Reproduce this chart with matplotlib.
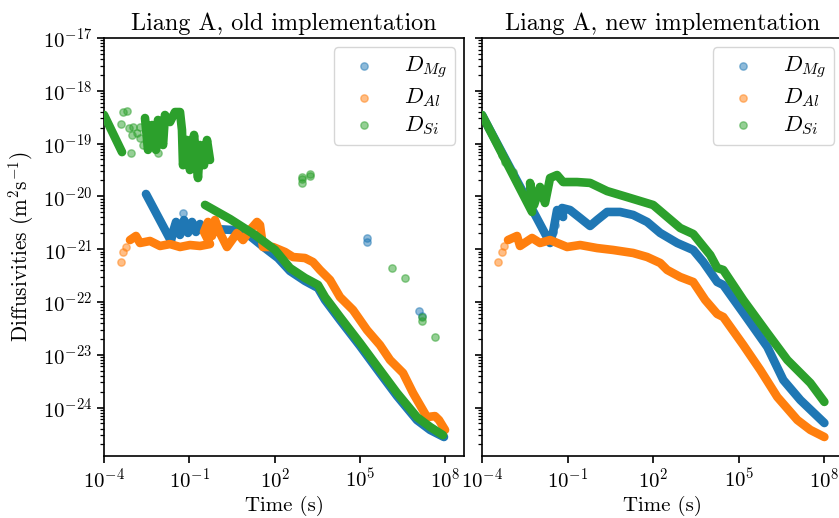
import numpy as np
import matplotlib.pyplot as plt
from matplotlib.ticker import NullLocator

plt.rcParams['font.family'] = 'serif'
plt.rcParams['font.serif'] = ['cmr10']
plt.rcParams['mathtext.fontset'] = 'cm'
plt.rcParams['axes.formatter.use_mathtext'] = True
plt.rcParams['font.size'] = 15

# ---- old implementation: dense runs of points (t in s, D in m^2/s) ----
t_mg_old = [2.99e-3, 2.26e-2, 2.66e-2, 3.4e-2, 4.69e-2, 6.5e-2, 8.97e-2, 0.124, 0.171, 0.237,
            0.327, 0.797, 3.42, 13.5, 45.6, 130.6, 345, 1162, 3327, 5861,
            1.97e4, 9.95e4, 5.0e5, 1.99e6, 1.0e7, 2.9e7, 8.9e7]
d_mg_old = [1.11e-20, 1.43e-21, 2.12e-21, 3.28e-21, 1.86e-21, 3.57e-21, 2.03e-21, 3.28e-21, 2.12e-21, 3.0e-21,
            2.31e-21, 2.41e-21, 2.31e-21, 1.78e-21, 1.05e-21, 6.8e-22, 3.86e-22, 2.5e-22, 1.84e-22, 1.09e-22,
            4.56e-23, 1.47e-23, 4.5e-24, 1.66e-24, 5.8e-25, 3.77e-25, 2.77e-25]

t_al_old = [8.2e-4, 1.33e-3, 1.84e-3, 4.14e-3, 9.3e-3, 2.09e-2, 4.69e-2, 0.105, 0.237, 0.532,
            0.327, 0.453, 0.625, 0.797, 1.19, 2.1, 4.73, 7.69, 13.5, 23.9,
            30.4, 38.8, 87.1, 230, 440, 1162, 2218, 3908, 8790, 1.97e4,
            5.65e4, 1.75e5, 5.0e5, 1.13e6, 3.24e6, 7.26e6, 2.25e7, 4.3e7, 5.96e7, 9.7e7]
d_al_old = [1.49e-21, 1.78e-21, 1.31e-21, 1.43e-21, 1.15e-21, 1.25e-21, 1.1e-21, 1.2e-21, 1.15e-21, 1.25e-21,
            2.12e-21, 3.28e-21, 1.78e-21, 3.57e-21, 2.03e-21, 1.1e-21, 2.03e-21, 1.49e-21, 2.31e-21, 3.28e-21,
            2.87e-21, 1.1e-21, 1.1e-21, 8.85e-22, 7.1e-22, 6.8e-22, 5.7e-22, 4.04e-22, 2.61e-22, 1.24e-22,
            7.05e-23, 2.95e-23, 1.53e-23, 7.98e-24, 4.52e-24, 1.89e-24, 6.6e-25, 6.9e-25, 5.8e-25, 3.77e-25]

t_si_old_early = [1e-4, 4.3e-4]
d_si_old_early = [3.5e-19, 6.9e-20]
t_si_old_burst = [2.76e-3, 3.52e-3, 4.87e-3, 6.7e-3, 7.9e-3, 1.19e-2, 1.39e-2, 2.09e-2, 3.13e-2, 4.69e-2,
                  5.5e-2, 5.98e-2, 8.3e-2, 0.105, 0.146, 0.201, 0.237, 0.327, 0.417, 0.532]
d_si_old_burst = [3.05e-19, 7.6e-20, 2.25e-19, 7.6e-20, 2.8e-19, 9.4e-20, 3.48e-19, 2.56e-19, 3.96e-19, 3.96e-19,
                  1.81e-19, 3.9e-20, 1.17e-19, 3.16e-20, 1.46e-19, 2.23e-20, 9.4e-20, 3.9e-20, 1.17e-19, 4.9e-20]
t_si_old = [0.355, 2.69, 20.3, 102.6, 345, 1162, 3327, 5861, 1.97e4, 9.95e4,
            5.0e5, 1.99e6, 1.0e7, 2.9e7, 8.2e7]
d_si_old = [6.9e-21, 3.73e-21, 1.86e-21, 9.7e-22, 4.4e-22, 2.85e-22, 2.1e-22, 1.24e-22, 5.2e-23, 1.67e-23,
            5.15e-24, 1.89e-24, 6.6e-25, 4.3e-25, 3.0e-25]

# ---- old implementation: scattered single points ----
t_mg_old_pts = [5.98e-2, 1.75e5, 1.75e5, 1.18e7, 1.5e7]
d_mg_old_pts = [4.85e-21, 1.63e-21, 1.37e-21, 6.8e-23, 5.4e-23]
t_al_old_pts = [3.96e-4, 4.66e-4, 5.93e-4]
d_al_old_pts = [5.7e-22, 8.85e-22, 1.1e-21]
t_si_old_pts = [4.66e-4, 6.4e-4, 3.96e-4, 7.6e-4, 1.04e-3, 9.6e-4, 1.84e-3, 1.45e-3, 2.35e-3, 8.9e-4,
                7.9e-3, 1.84e-3, 912, 912, 912, 1742, 1742, 1.33e6, 3.8e6, 1.5e7,
                1.5e7, 4.3e7]
d_si_old_pts = [3.96e-19, 4.1e-19, 2.35e-19, 1.97e-19, 2.06e-19, 1.45e-19, 2.06e-19, 1.58e-19, 9.4e-20, 6.6e-20,
                6.6e-20, 1.28e-19, 2.33e-20, 2.1e-20, 1.8e-20, 2.65e-20, 2.4e-20, 4.4e-22, 2.85e-22, 5.2e-23,
                4.4e-23, 2.17e-23]

# ---- new implementation ----
t_mg_new = [1e-4, 2.43e-2, 3.1e-2, 4.28e-2, 6.96e-2, 6.41e-2, 0.122, 0.275, 0.615, 1.08,
            2.43, 6.95, 19.9, 61.5, 176, 695, 2535, 5680, 1.76e4, 2.86e4,
            1.44e5, 1e6, 3.64e6, 1.44e7, 1e8]
d_mg_new = [3.48e-19, 1.31e-21, 2.12e-21, 5.52e-21, 4.07e-21, 6.03e-21, 5.52e-21, 3.9e-21, 2.75e-21, 3.57e-21,
            5.07e-21, 5.07e-21, 4.45e-21, 3.28e-21, 2.03e-21, 1.31e-21, 9.66e-22, 5.73e-22, 2.39e-22, 2.1e-22,
            6.2e-23, 1.41e-23, 3.33e-24, 1.39e-24, 5.1e-25]

t_al_new = [8.17e-4, 1.69e-3, 2.15e-3, 5.68e-3, 1.08e-2, 2.43e-2, 9.6e-2, 0.275, 1.08, 3.95,
            19.9, 61.5, 176, 310, 885, 2535, 6680, 1.76e4, 2.86e4, 1.44e5,
            5.68e5, 2.24e6, 1.13e7, 3.23e7, 1e8]
d_al_new = [1.49e-21, 1.78e-21, 1.15e-21, 1.63e-21, 1.31e-21, 1.49e-21, 1.1e-21, 1.2e-21, 1.05e-21, 9.66e-22,
            8.47e-22, 7.11e-22, 5.48e-22, 4.04e-22, 2.97e-22, 2.39e-22, 1.09e-22, 5.93e-23, 5.2e-23, 1.53e-23,
            5.15e-24, 1.59e-24, 5.82e-25, 3.77e-25, 2.77e-25]

t_si_new = [1e-4, 5.68e-3, 4.83e-3, 6.68e-3, 1.08e-2, 1.62e-2, 2.43e-2, 4.28e-2, 6.96e-2, 0.215,
            0.615, 2.43, 12.2, 100, 885, 2535, 1e4, 1.76e4, 2.86e4, 1.44e5,
            1e6, 5.04e6, 3.23e7, 1e8]
d_si_new = [3.48e-19, 5.07e-21, 1.8e-20, 6.87e-21, 1.51e-20, 7.5e-21, 2.23e-20, 2.54e-20, 1.87e-20, 1.87e-20,
            1.8e-20, 1.26e-20, 9.7e-21, 6.87e-21, 2.52e-21, 1.94e-21, 7.76e-22, 4.4e-22, 4.04e-22, 1.09e-22,
            2.59e-23, 7.98e-24, 2.92e-24, 1.28e-24]

t_mg_new_pts = [3.1e-2, 3.6e-2]
d_mg_new_pts = [2.12e-21, 2.9e-21]
t_al_new_pts = [3.64e-4, 5.03e-4, 5.91e-4]
d_al_new_pts = [5.73e-22, 8.85e-22, 1.15e-21]
t_si_new_pts = [5.03e-4, 6.41e-4, 1.22e-3]
d_si_new_pts = [6.08e-20, 4.49e-20, 2.9e-20]

labels = [r'$D_{Mg}$', r'$D_{Al}$', r'$D_{Si}$']
colors = ['C0', 'C1', 'C2']

fig = plt.figure(figsize=(8.39, 5.18), dpi=100)
ax1 = fig.add_axes([104 / 839, 62 / 518, 360 / 839, 418 / 518])
ax2 = fig.add_axes([482 / 839, 62 / 518, 361 / 839, 418 / 518], sharey=ax1)

band = dict(lw=6.2, solid_capstyle='round', solid_joinstyle='round')
dots = dict(s=28, alpha=0.5)

old_runs = [[(t_mg_old, d_mg_old)],
            [(t_al_old, d_al_old)],
            [(t_si_old_early, d_si_old_early), (t_si_old_burst, d_si_old_burst), (t_si_old, d_si_old)]]
old_pts = [(t_mg_old_pts, d_mg_old_pts), (t_al_old_pts, d_al_old_pts), (t_si_old_pts, d_si_old_pts)]
new_runs = [[(t_mg_new, d_mg_new)], [(t_al_new, d_al_new)], [(t_si_new, d_si_new)]]
new_pts = [(t_mg_new_pts, d_mg_new_pts), (t_al_new_pts, d_al_new_pts), (t_si_new_pts, d_si_new_pts)]

for ax, runs, pts in [(ax1, old_runs, old_pts), (ax2, new_runs, new_pts)]:
    for i in range(3):
        for t, d in runs[i]:
            ax.plot(t, d, color=colors[i], zorder=2 + i, **band)
        ax.scatter(pts[i][0], pts[i][1], color=colors[i], label=labels[i], zorder=2 + i, **dots)
    ax.set_xscale('log')
    ax.set_yscale('log')
    ax.set_xlim(1e-4, 4.5e8)
    ax.set_xticks([1e-4, 1e-1, 1e2, 1e5, 1e8])
    ax.xaxis.set_minor_locator(NullLocator())
    ax.set_xlabel('Time (s)', fontsize=15, labelpad=3)
    ax.tick_params(which='major', length=5, width=1.2)
    ax.tick_params(which='minor', length=3, width=0.9)
    for sp in ax.spines.values():
        sp.set_linewidth(1.2)
    leg = ax.legend(loc='upper right', fontsize=16.2, labelspacing=0.25,
                    borderpad=0.35, handletextpad=0.75, borderaxespad=0.4)
    for h in leg.legend_handles:
        h.set_sizes([28])

ax1.set_ylim(1.21e-25, 1e-17)
ax1.set_yticks([1e-24, 1e-23, 1e-22, 1e-21, 1e-20, 1e-19, 1e-18, 1e-17])
ax1.set_ylabel(r'Diffusivities (m$^2$s$^{-1}$)', fontsize=15.3, labelpad=5)
ax2.tick_params(labelleft=False)

ax1.set_title('Liang A, old implementation', fontsize=17.4, pad=6)
ax2.set_title('Liang A, new implementation', fontsize=17.4, pad=6)

fig.savefig('out.png', dpi=100)
